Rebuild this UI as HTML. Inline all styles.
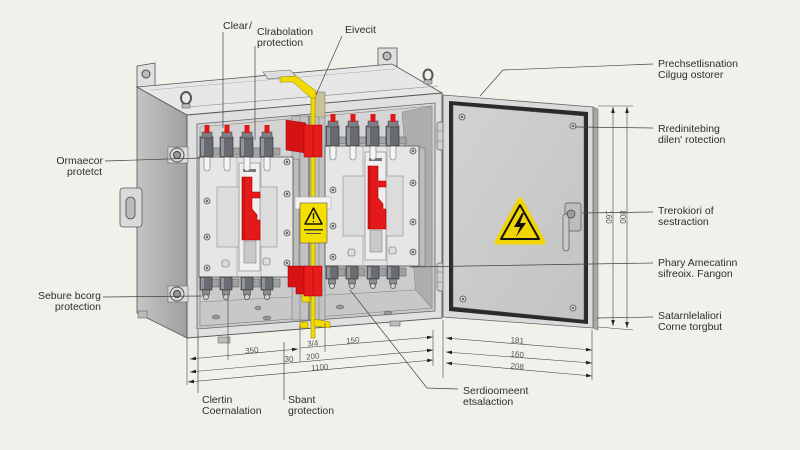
<!DOCTYPE html>
<html><head><meta charset="utf-8"><style>
html,body{margin:0;padding:0;background:#f1f0ea;width:800px;height:450px;overflow:hidden}
svg{display:block}
.t{font-family:"Liberation Sans",sans-serif;font-size:10.5px;fill:#2e2e2e}
.d{font-family:"Liberation Sans",sans-serif;font-size:8px;fill:#555}
</style></head><body>
<svg width="800" height="450" viewBox="0 0 800 450" xmlns="http://www.w3.org/2000/svg">
<defs>
 <linearGradient id="side" x1="0" y1="0" x2="1" y2="0"><stop offset="0" stop-color="#c4c4c4"/><stop offset="1" stop-color="#a0a0a0"/></linearGradient>
 <linearGradient id="back" x1="0" y1="0" x2="0" y2="1"><stop offset="0" stop-color="#d6d6d6"/><stop offset="1" stop-color="#c8c8c8"/></linearGradient>
 <linearGradient id="dp" x1="0" y1="0" x2="1" y2="1"><stop offset="0" stop-color="#d2d2d2"/><stop offset="1" stop-color="#c3c3c3"/></linearGradient>
 <marker id="ar" viewBox="0 0 10 10" refX="10" refY="5" markerWidth="6" markerHeight="6" orient="auto-start-reverse" markerUnits="userSpaceOnUse"><path d="M0,2 L10,5 L0,8 z" fill="#222"/></marker>
 <g id="screw"><circle r="3" fill="#d4d4d4" stroke="#555" stroke-width=".8"/><circle r="1.2" fill="#666"/></g>
 <g id="tt">
  <rect x="-3" y="-2" width="6" height="16" rx="3" fill="#f4f4f4" stroke="#777" stroke-width=".6"/>
  <rect x="6" y="-9" width="7" height="7" fill="#a5a5a5" stroke="#555" stroke-width=".5"/>
  <rect x="-7" y="-20" width="13" height="20" fill="#676b70" stroke="#2f2f2f" stroke-width=".6"/>
  <rect x="-6" y="-19" width="3" height="18" fill="#91969b"/>
  <rect x="-5" y="-25" width="10" height="6" fill="#7b8085" stroke="#333" stroke-width=".5"/>
  <rect x="-2.5" y="-32" width="5" height="8" fill="#e01818"/>
 </g>
 <g id="bt">
  <rect x="6" y="2" width="7" height="8" fill="#a0a0a0" stroke="#555" stroke-width=".5"/>
  <rect x="-6" y="0" width="12" height="13" fill="#6a6e73" stroke="#2f2f2f" stroke-width=".6"/>
  <rect x="-5" y="1" width="3" height="11" fill="#92969b"/>
  <rect x="-3.5" y="13" width="7" height="5" fill="#8a8e92" stroke="#333" stroke-width=".5"/>
  <circle cx="0" cy="20" r="2.5" fill="#d0d0d0" stroke="#333" stroke-width=".6"/>
 </g>
 <g id="brk">
  <rect x="94" y="2" width="6" height="118" fill="#bdbdbd" stroke="#777" stroke-width=".6"/>
  <rect x="0" y="0" width="94" height="120" fill="#e6e6e6" stroke="#5f5f5f" stroke-width=".9"/>
  <line x1="38" y1="0" x2="38" y2="120" stroke="#999" stroke-width=".6"/>
  <line x1="62" y1="0" x2="62" y2="120" stroke="#999" stroke-width=".6"/>
  <rect x="18" y="30" width="60" height="60" fill="#dcdcdc" stroke="#999" stroke-width=".7"/>
  <rect x="40" y="6" width="21" height="108" fill="#efefef" stroke="#888" stroke-width=".7"/>
  <rect x="44" y="12" width="13" height="3" fill="#777"/>
  <rect x="45" y="84" width="12" height="22" fill="#c9c9c9" stroke="#888" stroke-width=".6"/>
  <path d="M43,20 H53 V35 H61 V41 H53 V52 L58,58 V63 H61 V83 H43 Z" fill="#e41a1a" stroke="#a00" stroke-width=".6"/>
  <rect x="43" y="20" width="3" height="63" fill="#b30f0f" opacity=".5"/>
  <use href="#screw" x="8" y="5"/><use href="#screw" x="88" y="5"/>
  <use href="#screw" x="8" y="44"/><use href="#screw" x="88" y="37"/>
  <use href="#screw" x="8" y="80"/><use href="#screw" x="88" y="76"/>
  <use href="#screw" x="8" y="111"/><use href="#screw" x="88" y="106"/>
  <rect x="23" y="103" width="7" height="7" rx="2" fill="#ddd" stroke="#666" stroke-width=".6"/>
  <rect x="64" y="101" width="7" height="7" rx="2" fill="#ddd" stroke="#666" stroke-width=".6"/>
  <use href="#tt" x="8" y="0"/><use href="#tt" x="28" y="0"/><use href="#tt" x="48" y="0"/><use href="#tt" x="68" y="0"/>
  <use href="#bt" x="7" y="120"/><use href="#bt" x="27" y="120"/><use href="#bt" x="48" y="120"/><use href="#bt" x="68" y="120"/>
 </g>
</defs>

<!-- back tabs -->
<polygon points="137,66 155,63 155,86 137,88" fill="#e0e0e0" stroke="#555" stroke-width=".8"/>
<circle cx="146" cy="74" r="4" fill="#bbb" stroke="#444"/>
<rect x="378" y="48" width="19" height="18" fill="#e0e0e0" stroke="#555" stroke-width=".8"/>
<circle cx="387" cy="56" r="4" fill="#bbb" stroke="#444"/>

<!-- left side face -->
<polygon points="137,87 187,115 187,338 137,313" fill="url(#side)" stroke="#555" stroke-width=".8"/>
<!-- top face -->
<polygon points="137,87 392,64 442,93 187,115" fill="#e7e7e7" stroke="#555" stroke-width=".8"/>
<line x1="187" y1="107" x2="438" y2="86" stroke="#888" stroke-width=".6"/>
<line x1="150" y1="90" x2="395" y2="69" stroke="#aaa" stroke-width=".5"/>
<!-- eye bolts -->
<ellipse cx="186" cy="98" rx="5" ry="6" fill="none" stroke="#555" stroke-width="2"/>
<rect x="182" y="104" width="8" height="4" fill="#bbb" stroke="#555" stroke-width=".5"/>
<ellipse cx="428" cy="75" rx="4.5" ry="5.5" fill="none" stroke="#555" stroke-width="2"/>
<rect x="424" y="80" width="8" height="4" fill="#bbb" stroke="#555" stroke-width=".5"/>

<!-- front frame -->
<polygon points="187,115 442,93 442,318 187,338" fill="#e0e0e0" stroke="#555" stroke-width=".9"/>
<polygon points="197,124 435,103 435,311 197,329" fill="url(#back)" stroke="#666" stroke-width=".8"/>
<polygon points="200,127 432,106 432,308 200,326" fill="none" stroke="#8a8a8a" stroke-width=".6"/>
<!-- interior right wall -->
<polygon points="402,112 432,106 432,308 416,298" fill="#adadad" stroke="#888" stroke-width=".5"/>
<!-- floor -->
<polygon points="200,302 416,290 432,308 200,326" fill="#c8c8c8" stroke="#888" stroke-width=".6"/>
<ellipse cx="216" cy="317" rx="4" ry="2" fill="#999" stroke="#555" stroke-width=".5"/>
<ellipse cx="258" cy="308" rx="3" ry="2" fill="#999" stroke="#555" stroke-width=".5"/>
<ellipse cx="267" cy="318" rx="4" ry="2" fill="#999" stroke="#555" stroke-width=".5"/>
<ellipse cx="340" cy="307" rx="4" ry="2" fill="#999" stroke="#555" stroke-width=".5"/>
<ellipse cx="388" cy="313" rx="4" ry="2" fill="#999" stroke="#555" stroke-width=".5"/>

<!-- middle partition -->
<rect x="292" y="116" width="33" height="204" fill="#c2c2c2" stroke="#777" stroke-width=".6"/>
<line x1="300" y1="116" x2="300" y2="320" stroke="#7a7a7a" stroke-width=".6"/>
<line x1="309" y1="116" x2="309" y2="320" stroke="#333" stroke-width=".8"/>
<line x1="319" y1="116" x2="319" y2="320" stroke="#7a7a7a" stroke-width=".6"/>
<rect x="313" y="92" width="12" height="25" fill="#c9c29a" stroke="#777" stroke-width=".5"/>

<!-- breakers -->
<use href="#brk" x="199" y="157"/>
<use href="#brk" x="325" y="146"/>

<!-- yellow bar -->
<rect x="311" y="90" width="4" height="248" fill="#f2dc00" stroke="#8a7a00" stroke-width=".5"/>
<polygon points="263,72 290,70 296,76 268,79" fill="#ddd" stroke="#666" stroke-width=".6"/>
<polygon points="280,77 296,76 316,91 316,98 311,98 293,82 280,82" fill="#f2dc00" stroke="#8a7a00" stroke-width=".5"/>
<polygon points="314,319 330,322 330,328 314,326" fill="#f2dc00" stroke="#8a7a00" stroke-width=".5"/>
<rect x="300" y="322" width="8" height="6" fill="#f2dc00" stroke="#8a7a00" stroke-width=".5"/>
<rect x="302" y="293" width="8" height="9" fill="#f2dc00" stroke="#8a7a00" stroke-width=".5"/>

<!-- red blocks -->
<polygon points="286,120 306,123 306,153 286,150" fill="#d51313" stroke="#900" stroke-width=".5"/>
<rect x="304" y="125" width="18" height="32" fill="#e81c1c" stroke="#900" stroke-width=".5"/>
<line x1="313" y1="125" x2="313" y2="157" stroke="#b00" stroke-width=".6"/>
<polygon points="288,266 306,266 306,294 296,294 296,287 288,287" fill="#d51313" stroke="#900" stroke-width=".5"/>
<rect x="304" y="266" width="18" height="30" fill="#e81c1c" stroke="#900" stroke-width=".5"/>
<line x1="313" y1="266" x2="313" y2="296" stroke="#b00" stroke-width=".6"/>

<!-- warning tag -->
<rect x="295" y="197" width="36" height="12" fill="#f2f2f2" stroke="#999" stroke-width=".5"/>
<rect x="300" y="203" width="27" height="40" fill="#f4e000" stroke="#555" stroke-width=".6"/>
<polygon points="313.5,208 322,224 305,224" fill="none" stroke="#111" stroke-width="1.5" stroke-linejoin="round"/>
<line x1="313.5" y1="213" x2="313.5" y2="219" stroke="#111" stroke-width="1.3"/>
<circle cx="313.5" cy="221.5" r=".8" fill="#111"/>
<rect x="304" y="229" width="19" height="1.5" fill="#333"/>
<rect x="306" y="233" width="15" height="1" fill="#555"/>

<!-- left side mounts -->
<rect x="168" y="147" width="20" height="16" fill="#ddd" stroke="#666" stroke-width=".6"/>
<circle cx="177" cy="155" r="7" fill="#d8d8d8" stroke="#555"/>
<circle cx="177" cy="155" r="3.5" fill="#999" stroke="#444"/>
<rect x="168" y="286" width="20" height="16" fill="#ddd" stroke="#666" stroke-width=".6"/>
<circle cx="177" cy="294" r="7" fill="#d8d8d8" stroke="#555"/>
<circle cx="177" cy="294" r="3.5" fill="#999" stroke="#444"/>
<rect x="120" y="188" width="22" height="39" rx="3" fill="#dadada" stroke="#555" stroke-width=".8"/>
<rect x="126" y="197" width="9" height="22" rx="4.5" fill="#bcbcbc" stroke="#444" stroke-width=".8"/>
<!-- feet -->
<rect x="218" y="337" width="12" height="6" fill="#bbb" stroke="#555" stroke-width=".5"/>
<rect x="390" y="321" width="10" height="5" fill="#bbb" stroke="#555" stroke-width=".5"/>
<rect x="138" y="311" width="9" height="7" fill="#bbb" stroke="#555" stroke-width=".5"/>

<!-- hinges -->
<rect x="437" y="122" width="11" height="28" rx="2" fill="#d0d0d0" stroke="#666" stroke-width=".7"/>
<line x1="437" y1="131" x2="448" y2="131" stroke="#777" stroke-width=".6"/><line x1="437" y1="141" x2="448" y2="141" stroke="#777" stroke-width=".6"/>
<rect x="437" y="263" width="11" height="28" rx="2" fill="#d0d0d0" stroke="#666" stroke-width=".7"/>
<line x1="437" y1="272" x2="448" y2="272" stroke="#777" stroke-width=".6"/><line x1="437" y1="282" x2="448" y2="282" stroke="#777" stroke-width=".6"/>

<!-- door -->
<polygon points="593,107 598,109 598,330 593,328" fill="#a8a8a8" stroke="#666" stroke-width=".5"/>
<polygon points="443,95 593,107 593,328 443,317" fill="#dadada" stroke="#666" stroke-width=".8"/>
<polygon points="449,101 588,112 588,324 449,311" fill="#2a2a2a"/>
<polygon points="453,105 584,116 584,320 453,307" fill="url(#dp)" stroke="#555" stroke-width=".5"/>
<use href="#screw" x="462" y="117"/><use href="#screw" x="573" y="126"/>
<use href="#screw" x="463" y="299"/><use href="#screw" x="573" y="308"/>
<polygon points="520,200 543,242 497,242" fill="#f2d500" stroke="#f2d500" stroke-width="5" stroke-linejoin="round"/>
<polygon points="520,205 539,239 501,239" fill="#f2d500" stroke="#111" stroke-width="2" stroke-linejoin="round"/>
<path d="M522,213 L514,227 L520,227 L516,237 L526,223 L520,223 L524,213 Z" fill="#111"/>
<rect x="565" y="203" width="16" height="28" rx="2" fill="#bdbdbd" stroke="#555" stroke-width=".7"/>
<rect x="563" y="214" width="6" height="37" rx="3" fill="#c8c8c8" stroke="#555" stroke-width=".7"/>
<circle cx="571" cy="214" r="4" fill="#9a9a9a" stroke="#444" stroke-width=".7"/>

<!-- leaders -->
<g stroke="#444" stroke-width=".7" fill="none">
 <line x1="223" y1="32" x2="223" y2="128"/>
 <line x1="255" y1="46" x2="255" y2="140"/>
 <line x1="342" y1="36" x2="316" y2="95"/>
 <line x1="105" y1="161" x2="200" y2="158"/>
 <line x1="103" y1="297" x2="202" y2="296"/>
 <polyline points="480,96 503,70 653,64"/>
 <line x1="575" y1="127" x2="653" y2="128"/>
 <line x1="582" y1="213" x2="653" y2="212"/>
 <line x1="410" y1="267" x2="653" y2="263"/>
 <line x1="597" y1="318" x2="653" y2="317"/>
 <polyline points="350,290 427,388 458,389"/>
 <line x1="284" y1="342" x2="284" y2="400"/>
 <line x1="198" y1="330" x2="198" y2="393"/>
</g>

<!-- dimension lines -->
<g stroke="#444" stroke-width=".6" fill="none">
 <line x1="598" y1="106" x2="633" y2="106"/>
 <line x1="598" y1="327" x2="633" y2="330"/>
 <line x1="613" y1="107" x2="613" y2="326" marker-start="url(#ar)" marker-end="url(#ar)"/>
 <line x1="627" y1="107" x2="627" y2="328" marker-start="url(#ar)" marker-end="url(#ar)"/>
 <line x1="187" y1="333" x2="187" y2="385"/>
 <line x1="228" y1="296" x2="228" y2="360"/>
 <line x1="300" y1="325" x2="300" y2="362"/>
 <line x1="325" y1="323" x2="325" y2="352"/>
 <line x1="433" y1="330" x2="433" y2="366"/>
 <line x1="443" y1="320" x2="443" y2="378"/>
 <line x1="592" y1="330" x2="592" y2="380"/>
 <line x1="190" y1="359" x2="298" y2="349" marker-start="url(#ar)" marker-end="url(#ar)"/>
 <line x1="300" y1="348" x2="433" y2="337" marker-end="url(#ar)"/>
 <line x1="190" y1="372" x2="433" y2="350" marker-start="url(#ar)" marker-end="url(#ar)"/>
 <line x1="188" y1="382" x2="433" y2="360" marker-start="url(#ar)" marker-end="url(#ar)"/>
 <line x1="446" y1="338" x2="592" y2="350" marker-start="url(#ar)" marker-end="url(#ar)"/>
 <line x1="446" y1="352" x2="592" y2="363" marker-start="url(#ar)" marker-end="url(#ar)"/>
 <line x1="446" y1="363" x2="592" y2="376" marker-start="url(#ar)" marker-end="url(#ar)"/>
</g>
<text class="d" x="252" y="353" text-anchor="middle" transform="rotate(-5 252 353)">350</text>
<text class="d" x="313" y="346" text-anchor="middle" transform="rotate(-5 313 346)">3/4</text>
<text class="d" x="353" y="343" text-anchor="middle" transform="rotate(-5 353 343)">150</text>
<text class="d" x="289" y="362" text-anchor="middle">30</text>
<text class="d" x="313" y="359" text-anchor="middle" transform="rotate(-5 313 359)">200</text>
<text class="d" x="320" y="370" text-anchor="middle" transform="rotate(-5 320 370)">1100</text>
<text class="d" x="517" y="343" text-anchor="middle" transform="rotate(5 517 343)">181</text>
<text class="d" x="517" y="357" text-anchor="middle" transform="rotate(5 517 357)">160</text>
<text class="d" x="517" y="369" text-anchor="middle" transform="rotate(5 517 369)">208</text>
<text class="d" x="606" y="217" text-anchor="middle" transform="rotate(90 606 217)">160</text>
<text class="d" x="620" y="217" text-anchor="middle" transform="rotate(90 620 217)">800</text>

<!-- labels -->
<text class="t" x="223" y="29">Clear</text>
<text class="t" x="249" y="29">/</text>
<text class="t" x="257" y="35">Clrabolation</text>
<text class="t" x="257" y="46">protection</text>
<text class="t" x="345" y="33">Eivecit</text>
<text class="t" x="103" y="164" text-anchor="end">Ormaecor</text>
<text class="t" x="102" y="175" text-anchor="end">protetct</text>
<text class="t" x="101" y="299" text-anchor="end">Sebure bcorg</text>
<text class="t" x="101" y="310" text-anchor="end">protection</text>
<text class="t" x="202" y="403">Clertin</text>
<text class="t" x="202" y="414">Coernalation</text>
<text class="t" x="288" y="403">Sbant</text>
<text class="t" x="288" y="414">grotection</text>
<text class="t" x="463" y="394">Serdioomeent</text>
<text class="t" x="463" y="405">etsalaction</text>
<text class="t" x="658" y="67">Prechsetlisnation</text>
<text class="t" x="658" y="78">Cilgug ostorer</text>
<text class="t" x="658" y="132">Rredinitebing</text>
<text class="t" x="658" y="143">dilen' rotection</text>
<text class="t" x="658" y="214">Trerokiori of</text>
<text class="t" x="658" y="225">sestraction</text>
<text class="t" x="658" y="266">Phary Amecatinn</text>
<text class="t" x="658" y="277">sifreoix. Fangon</text>
<text class="t" x="658" y="319">Satarnlelaliori</text>
<text class="t" x="658" y="330">Corne torgbut</text>
</svg>
</body></html>
